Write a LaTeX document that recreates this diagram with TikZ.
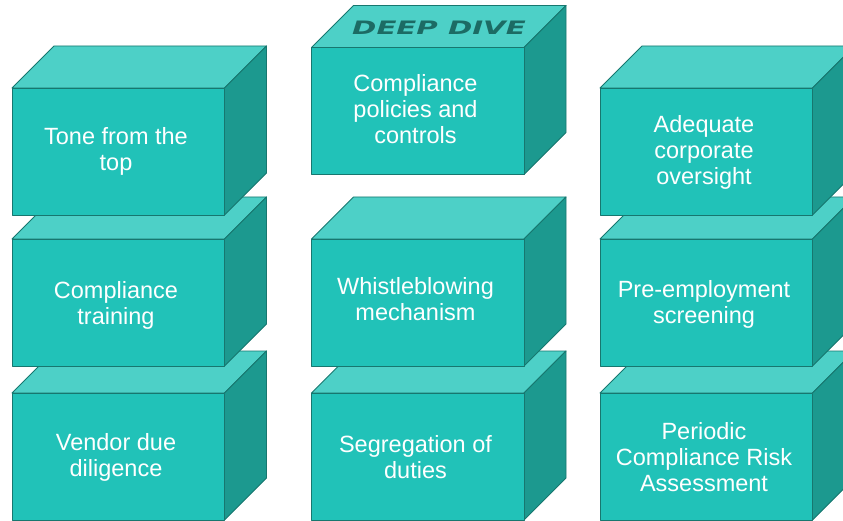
\documentclass[tikz,border=0pt]{standalone}
\usepackage{fontspec}
\setmainfont{Liberation Sans}
\newfontfamily\deepfont{DejaVu Sans}
\definecolor{frontc}{HTML}{21C2B8}
\definecolor{topc}{HTML}{4DD0C7}
\definecolor{sidec}{HTML}{1C998F}
\definecolor{edgec}{HTML}{17776F}
\definecolor{deepc}{HTML}{1C6B64}
\tikzset{
  face/.style={draw=edgec, line width=0.9pt, line join=round},
  boxtext/.style={text=white, align=center, font=\fontsize{23.5}{26}\selectfont, inner sep=0pt},
}
% \cubebox[text y shift]{name}{left x}{top y}{text}
\newcommand{\cubebox}[5][0]{%
  \fill[face, fill=topc] (#3,#4) -- ++(42,-42) -- ++(212.5,0) -- ++(-42,42) -- cycle;
  \fill[face, fill=sidec] (#3+212.5,#4) -- ++(42,-42) -- ++(0,127) -- ++(-42,42) -- cycle;
  \fill[face, fill=frontc] (#3,#4) rectangle ++(212.5,127);
  \node[boxtext] (#2) at (#3+104,#4+64+#1) {#5};
}
\begin{document}
\begin{tikzpicture}[x=1pt,y=-1pt]
\useasboundingbox (0,0) rectangle (843,521);
\clip (0,0) rectangle (843,521);
% row 3
\cubebox{vendor}{12}{393}{Vendor due\\diligence}
\cubebox{segreg}{311.5}{393}{Segregation of\\duties}
\cubebox{periodic}{600}{393}{Periodic\\Compliance Risk\\Assessment}
% row 2
\cubebox[2]{training}{12}{239}{Compliance\\training}
\cubebox[-4]{whistle}{311.5}{239}{Whistleblowing\\mechanism}
\cubebox[1]{preemp}{600}{239}{Pre-employment\\screening}
% row 1
\cubebox[-1]{tone}{12}{88}{Tone from the\\top}
\cubebox[-2]{policies}{311.5}{47.5}{Compliance\\policies and\\controls}
\cubebox{oversight}{600}{88}{Adequate\\corporate\\oversight}
\node[text=deepc, font=\deepfont\bfseries\itshape\fontsize{18.5}{20}\selectfont, xscale=1.58, inner sep=0pt] (deep) at (439,28) {DEEP DIVE};
\end{tikzpicture}
\end{document}
